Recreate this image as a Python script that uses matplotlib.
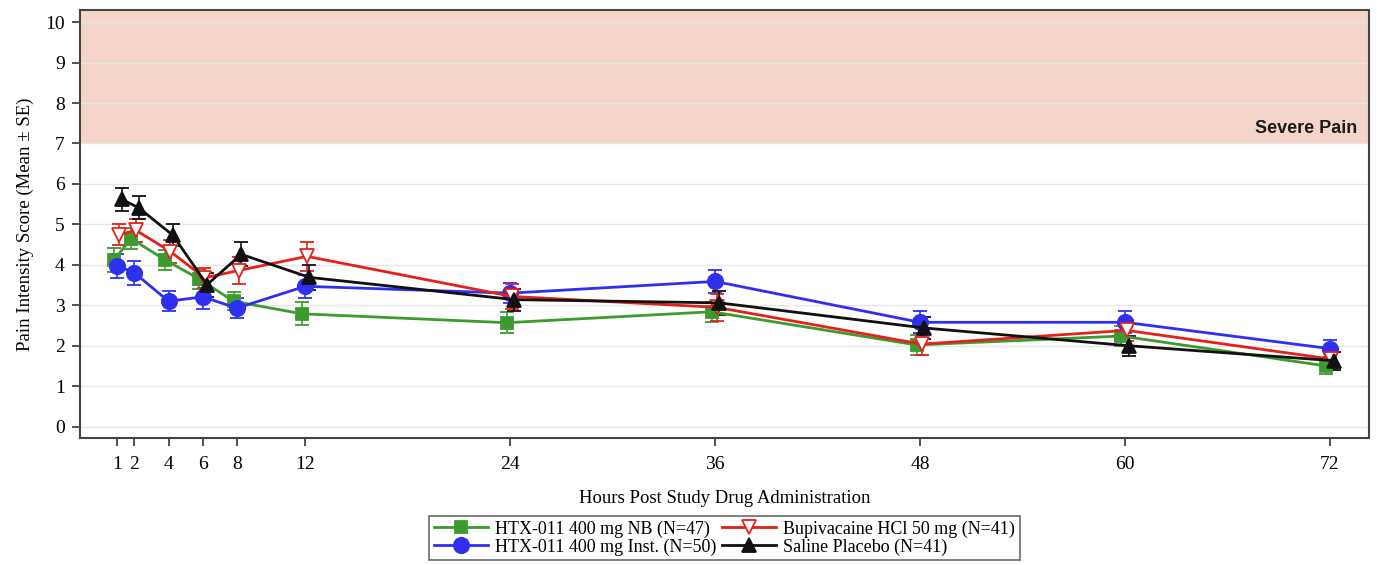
import numpy as np
import matplotlib.pyplot as plt
from matplotlib.lines import Line2D

hours = np.array([1, 2, 4, 6, 8, 12, 24, 36, 48, 60, 72])

nb_mean = [4.12, 4.65, 4.12, 3.65, 3.10, 2.79, 2.57, 2.84, 2.02, 2.24, 1.50]
nb_se = [0.30, 0.27, 0.25, 0.25, 0.22, 0.28, 0.26, 0.25, 0.25, 0.25, 0.20]

inst_mean = [3.98, 3.80, 3.10, 3.21, 2.93, 3.47, 3.30, 3.59, 2.58, 2.58, 1.93]
inst_se = [0.30, 0.30, 0.25, 0.30, 0.24, 0.29, 0.24, 0.29, 0.27, 0.27, 0.21]

bupi_mean = [4.75, 4.85, 4.33, 3.68, 3.86, 4.21, 3.22, 2.95, 2.04, 2.38, 1.67]
bupi_se = [0.25, 0.28, 0.28, 0.25, 0.33, 0.35, 0.30, 0.33, 0.26, 0.26, 0.22]

sal_mean = [5.62, 5.41, 4.73, 3.51, 4.26, 3.69, 3.14, 3.06, 2.44, 2.00, 1.63]
sal_se = [0.29, 0.28, 0.27, 0.30, 0.30, 0.30, 0.27, 0.30, 0.28, 0.25, 0.22]

labels = ['HTX-011 400 mg NB (N=47)', 'HTX-011 400 mg Inst. (N=50)',
          'Bupivacaine HCl 50 mg (N=41)', 'Saline Placebo (N=41)']

plt.rcParams['font.family'] = ['Liberation Serif', 'DejaVu Serif']

fig = plt.figure(figsize=(13.77, 5.65), dpi=100)
ax = fig.add_axes([0.0581, 0.2248, 0.9361, 0.7575])

ax.axhspan(7, 10.3, color='#f5d5ca', zorder=0, lw=0)
ax.grid(axis='y', color='#e6e6e6', lw=1, zorder=1)
ax.set_axisbelow(True)

series = [
    (nb_mean, nb_se, '#3d9a2e', 's', 'full', -0.2, 9),
    (inst_mean, inst_se, '#2f2ff0', 'o', 'full', 0.0, 11),
    (bupi_mean, bupi_se, '#e4211c', 'v', 'none', 0.1, 10),
    (sal_mean, sal_se, '#111111', '^', 'full', 0.25, 10),
]

handles = []
for (m, se, c, mk, fill, off, ms), lab in zip(series, labels):
    mfc = c if fill == 'full' else 'white'
    ax.errorbar(hours + off, m, yerr=se, color=c, marker=mk, ms=ms,
                mfc=mfc, mec=c, mew=1.3, lw=2, elinewidth=1.2,
                capsize=5, capthick=1.2, zorder=3)
    handles.append(Line2D([], [], color=c, marker=mk, ms=ms, mfc=mfc,
                          mec=c, mew=1.3, lw=2, label=lab))

ax.text(73.6, 7.15, 'Severe Pain', ha='right', va='bottom', fontsize=13,
        fontweight='bold', family=['Liberation Sans', 'DejaVu Sans'], color='#1a1a1a')

ax.set_xlim(-1.19, 74.3)
ax.set_ylim(-0.28, 10.3)
ax.set_xticks(hours)
ax.set_yticks(range(0, 11))
ax.tick_params(labelsize=14, length=6, width=1.2, color='#333333')
ax.tick_params(axis='x', pad=7)
ax.tick_params(axis='y', pad=5)

for s in ax.spines.values():
    s.set_color('#444444')
    s.set_linewidth(1.5)

ax.set_xlabel('Hours Post Study Drug Administration', fontsize=13.5, labelpad=12)
ax.set_ylabel('Pain Intensity Score (Mean \u00b1 SE)', fontsize=13.5, labelpad=8)

leg = fig.legend(handles=[handles[0], handles[1], handles[2], handles[3]],
                 loc='lower center', bbox_to_anchor=(0.526, 0.002),
                 ncol=2, fontsize=13, frameon=True, fancybox=False,
                 edgecolor='#444444', handlelength=3.0, borderpad=0.25,
                 labelspacing=0.05, columnspacing=0.3, handletextpad=0.4,
                 borderaxespad=0.2)
leg.get_frame().set_linewidth(1.2)

fig.savefig('out.png', dpi=100)
